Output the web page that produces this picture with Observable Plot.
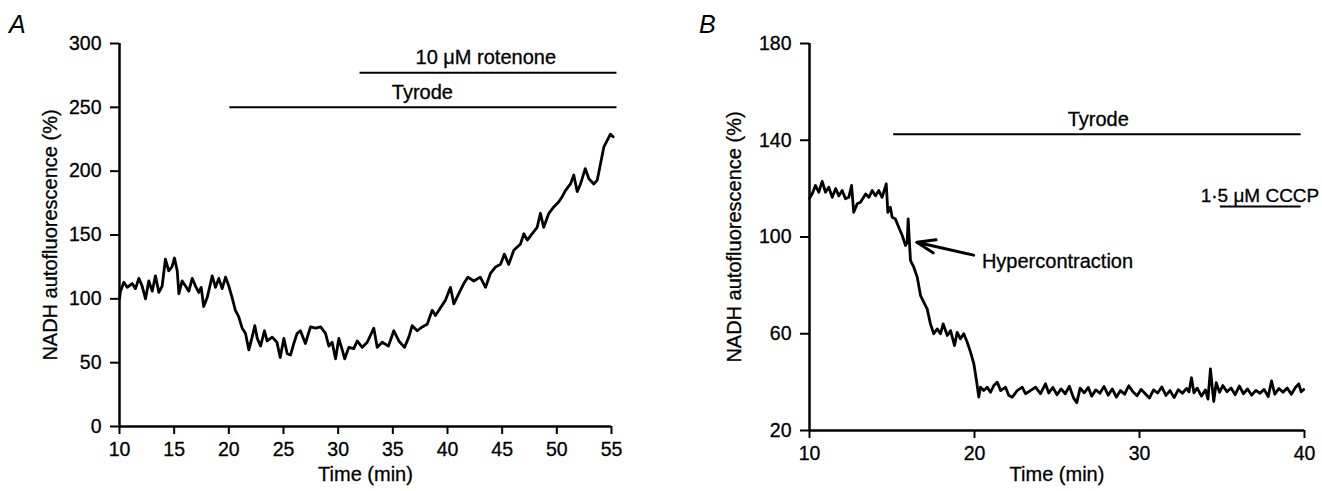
<!DOCTYPE html>
<html><head><meta charset="utf-8">
<script src="https://cdn.jsdelivr.net/npm/d3@7"></script>
<script src="https://cdn.jsdelivr.net/npm/@observablehq/plot@0.6"></script>
<style>
html,body{margin:0;padding:0;background:#fff;}
#wrap{position:relative;width:1322px;height:491px;font-family:"Liberation Sans",Arial,sans-serif;overflow:hidden;}
.panel{position:absolute;top:0;}
.letter{position:absolute;top:10px;font-size:25px;font-style:italic;line-height:28px;color:#000;}
#wrap svg text{stroke:#000;stroke-width:0.3px;}
</style></head><body>
<div id="wrap">
  <div id="pa" class="panel" style="left:0px"></div>
  <div id="pb" class="panel" style="left:660px"></div>
  <div class="letter" style="left:9px">A</div>
  <div class="letter" style="left:699px">B</div>
</div>
<script>
// ---------- Panel A data ----------
const timeA = [
  10.0, 10.09, 10.4, 10.7, 11.16, 11.46, 11.77, 12.07, 12.38, 12.68,
  12.99, 13.29, 13.6, 13.9, 14.2, 14.5, 14.8, 15.03, 15.28, 15.43,
  15.73, 16.04, 16.34, 16.65, 16.95, 17.25, 17.47, 17.7, 18.02, 18.32,
  18.48, 18.78, 19.08, 19.39, 19.7, 20.0, 20.3, 20.6, 20.9, 21.22,
  21.52, 21.83, 22.13, 22.38, 22.6, 22.9, 23.26, 23.5, 23.97, 24.4,
  24.7, 25.03, 25.34, 25.64, 25.94, 26.25, 26.55, 27.0, 27.47, 27.93,
  28.4, 28.84, 29.15, 29.45, 29.76, 30.06, 30.37, 30.6, 30.97, 31.43,
  31.74, 32.2, 32.66, 33.26, 33.57, 34.03, 34.6, 35.09, 35.55, 36.07,
  36.46, 36.77, 37.23, 37.69, 38.14, 38.6, 38.9, 39.36, 39.82, 40.27,
  40.58, 41.03, 41.49, 41.86, 42.4, 43.0, 43.48, 43.93, 44.4, 44.85,
  45.2, 45.6, 46.06, 46.68, 46.98, 47.3, 47.75, 48.2, 48.5, 48.8,
  49.27, 49.72, 50.18, 50.49, 50.8, 51.25, 51.55, 51.86, 52.17, 52.6,
  52.93, 53.38, 53.7, 54.0, 54.3, 54.6, 54.9, 55.15
];
const nadhA = [
  100, 106, 113, 109, 112, 108, 116, 110, 100, 114,
  106, 118, 105, 110, 131, 122, 125, 132, 122, 104,
  114, 110, 106, 116, 110, 105, 109, 94, 101, 112,
  118, 109, 116, 108, 117, 110, 101, 91, 86, 77,
  73, 60, 70, 79, 69, 63, 75, 67, 70, 66,
  54, 69, 57, 56, 65, 73, 75, 65, 78, 77,
  78, 73, 63, 66, 53, 69, 60, 53, 62, 61,
  67, 62, 66, 77, 62, 66, 63, 75, 67, 62,
  70, 79, 75, 78, 80, 91, 87, 93, 99, 109,
  96, 104, 112, 117, 114, 117, 109, 120, 125, 127,
  135, 127, 138, 143, 151, 146, 151, 156, 167, 156,
  167, 172, 176, 180, 185, 190, 197, 184, 190, 202,
  194, 190, 193, 206, 219, 224, 229, 227
];
const xTicksA = [10, 15, 20, 25, 30, 35, 40, 45, 50, 55];
const yTicksA = [0, 50, 100, 150, 200, 250, 300];
const barLabelsA = ["10 μM rotenone", "Tyrode"];
const barStartA = [32.0, 20.1];
const barEndA = [55.5, 55.5];
const barLevelA = [277, 250];
const barLabelTimeA = [43.5, 37.7];

// ---------- Panel B data ----------
const timeB = [
  10.0, 10.16, 10.36, 10.56, 10.77, 10.97, 11.17, 11.38, 11.58, 11.78,
  11.98, 12.18, 12.38, 12.55, 12.68, 12.89, 13.09, 13.4, 13.6, 13.8,
  14.0, 14.2, 14.4, 14.65, 14.75, 14.9, 15.01, 15.2, 15.41, 15.62,
  15.82, 15.92, 15.98, 16.04, 16.12, 16.32, 16.53, 16.73, 16.93, 17.13,
  17.33, 17.53, 17.74, 17.94, 18.1, 18.35, 18.55, 18.79, 18.95, 19.15,
  19.35, 19.56, 19.76, 19.96, 20.12, 20.26, 20.36, 20.56, 20.77, 20.97,
  21.17, 21.38, 21.58, 21.88, 22.08, 22.29, 22.59, 22.89, 23.09, 23.39,
  23.7, 24.0, 24.3, 24.5, 24.75, 25.0, 25.25, 25.5, 25.75, 26.0,
  26.2, 26.4, 26.65, 26.9, 27.1, 27.35, 27.6, 27.85, 28.1, 28.35,
  28.6, 28.85, 29.1, 29.35, 29.6, 29.85, 30.1, 30.35, 30.6, 30.85,
  31.1, 31.35, 31.6, 31.85, 32.1, 32.35, 32.6, 32.85, 33.0, 33.15,
  33.3, 33.5, 33.75, 34.0, 34.15, 34.3, 34.4, 34.5, 34.65, 34.85,
  35.05, 35.3, 35.55, 35.8, 36.05, 36.3, 36.55, 36.8, 37.05, 37.3,
  37.55, 37.8, 38.0, 38.2, 38.45, 38.7, 38.95, 39.2, 39.45, 39.65,
  39.8, 39.95
];
const nadhB = [
  116, 117.8, 121.3, 118.5, 123, 118.5, 120.6, 116.4, 120, 117,
  119.2, 115.8, 116.4, 121.3, 110.2, 113.7, 114.4, 117.8, 116.4, 119.2,
  117, 119.2, 116.4, 122, 110.2, 112.3, 108.2, 107.5, 104, 100.6,
  96.5, 97.8, 107.5, 99.9, 90.3, 87.5, 83.4, 75.8, 73, 70.3,
  64.1, 60, 62, 60, 64.1, 59.3, 61.3, 55.1, 60.6, 57.9,
  60, 56.5, 52.4, 47.6, 40.7, 33.8, 37.9, 36.5, 37.9, 35.8,
  38.6, 40, 36.5, 37.9, 34.5, 33.8, 36.5, 37.9, 35.2, 36.5,
  37.9, 35.2, 39.3, 35.5, 37.8, 34.8, 37.2, 35.2, 38.3, 33.5,
  31.5, 37.5, 35.6, 37.8, 34.2, 36.8, 35.4, 38.2, 34.6, 37.2,
  33.8, 36.5, 35.0, 38.5, 36.0, 34.4, 37.0, 35.2, 33.4, 36.8,
  35.5, 38.0, 34.5, 36.5, 33.6, 36.9, 35.4, 37.4, 36.0, 41.8,
  35.6, 37.5, 34.2, 36.8, 33.0, 45.5, 38.5, 32.0, 39.8, 35.8,
  38.6, 36.0, 37.6, 34.8, 38.4, 35.2, 37.2, 34.6, 36.6, 35.4,
  37.0, 34.0, 40.5, 35.0, 37.4, 35.8, 37.6, 35.0, 37.8, 39.3,
  36.0, 37.0
];
const xTicksB = [10, 20, 30, 40];
const yTicksB = [20, 60, 100, 140, 180];
const barLabelsB = ["Tyrode", "1·5 μM CCCP"];
const barStartB = [15.1, 34.9];
const barEndB = [39.8, 39.8];
const barLevelB = [142.5, 112.6];
const barLabelTimeB = [27.5, 37.3];
const arrowLabelB = "Hypercontraction";
const arrowFromB = [19.95, 92.5];
const arrowToB = [16.5, 97.8];

const yTitle = "NADH autofluorescence (%)";
const xTitle = "Time (min)";

// ---------- build tables ----------
const traceA = timeA.map((t, i) => ({t, v: nadhA[i]}));
const traceB = timeB.map((t, i) => ({t, v: nadhB[i]}));
const barsA = barLabelsA.map((label, i) => ({label, x1: barStartA[i], x2: barEndA[i], y: barLevelA[i], tx: barLabelTimeA[i]}));
const barsB = barLabelsB.map((label, i) => ({label, x1: barStartB[i], x2: barEndB[i], y: barLevelB[i], tx: barLabelTimeB[i]}));

const FONT = "'Liberation Sans', Arial, Helvetica, sans-serif";
const FS = 20;
const style = {fontFamily: FONT, fontSize: FS + "px", color: "#000", background: "transparent", overflow: "visible"};

const plotA = Plot.plot({
  width: 660, height: 491,
  marginLeft: 119, marginRight: 49, marginTop: 43, marginBottom: 65,
  x: {domain: [10, 55]},
  y: {domain: [0, 300]},
  style,
  marks: [
    Plot.axisX({ticks: xTicksA, tickSize: 8, tickPadding: 8, strokeWidth: 2, label: null, fontSize: 19.5}),
    Plot.axisY({ticks: yTicksA, tickSize: 9, tickPadding: 9, strokeWidth: 2, label: null, fontSize: 19.5}),
    Plot.ruleY([0], {strokeWidth: 2.5}),
    Plot.ruleX([10], {strokeWidth: 2.5}),
    Plot.line(traceA, {x: "t", y: "v", stroke: "#000", strokeWidth: 2.8, strokeLinejoin: "round"}),
    Plot.ruleY(barsA, {x1: "x1", x2: "x2", y: "y", stroke: "#000", strokeWidth: 2}),
    Plot.text(barsA, {x: "tx", y: "y", text: "label", dy: -15, fontSize: FS, fill: "#000"}),
    Plot.text([xTitle], {frameAnchor: "bottom", dy: 54, fontSize: FS, fill: "#000"}),
    Plot.text([yTitle], {frameAnchor: "left", dx: -69, rotate: -90, textAnchor: "middle", fontSize: FS, fill: "#000"})
  ]
});
document.getElementById("pa").appendChild(plotA);

const plotB = Plot.plot({
  width: 662, height: 491,
  marginLeft: 149, marginRight: 18, marginTop: 43, marginBottom: 61,
  x: {domain: [10, 40]},
  y: {domain: [20, 180]},
  style,
  marks: [
    Plot.axisX({ticks: xTicksB, tickSize: 8, tickPadding: 8, strokeWidth: 2, label: null, fontSize: 19.5}),
    Plot.axisY({ticks: yTicksB, tickSize: 9, tickPadding: 9, strokeWidth: 2, label: null, fontSize: 19.5}),
    Plot.ruleY([20], {strokeWidth: 2.5}),
    Plot.ruleX([10], {strokeWidth: 2.5}),
    Plot.line(traceB, {x: "t", y: "v", stroke: "#000", strokeWidth: 2.8, strokeLinejoin: "round"}),
    Plot.ruleY(barsB, {x1: "x1", x2: "x2", y: "y", stroke: "#000", strokeWidth: 2}),
    Plot.text(barsB.slice(0, 1), {x: "tx", y: "y", text: "label", dy: -15, fontSize: FS, fill: "#000"}),
    Plot.text(barsB.slice(1), {x: "tx", y: "y", text: "label", dy: -11, fontSize: 19, fill: "#000"}),
    Plot.arrow([{x1: arrowFromB[0], y1: arrowFromB[1], x2: arrowToB[0], y2: arrowToB[1]}],
      {x1: "x1", y1: "y1", x2: "x2", y2: "y2", stroke: "#000", strokeWidth: 3, headLength: 12, headAngle: 40}),
    Plot.text([arrowLabelB], {x: [20.45], y: [89.9], textAnchor: "start", fontSize: FS, fill: "#000"}),
    Plot.text([xTitle], {frameAnchor: "bottom", dy: 50, fontSize: FS, fill: "#000"}),
    Plot.text([yTitle], {frameAnchor: "left", dx: -75, rotate: -90, textAnchor: "middle", fontSize: FS, fill: "#000"})
  ]
});
document.getElementById("pb").appendChild(plotB);
</script>
</body></html>
